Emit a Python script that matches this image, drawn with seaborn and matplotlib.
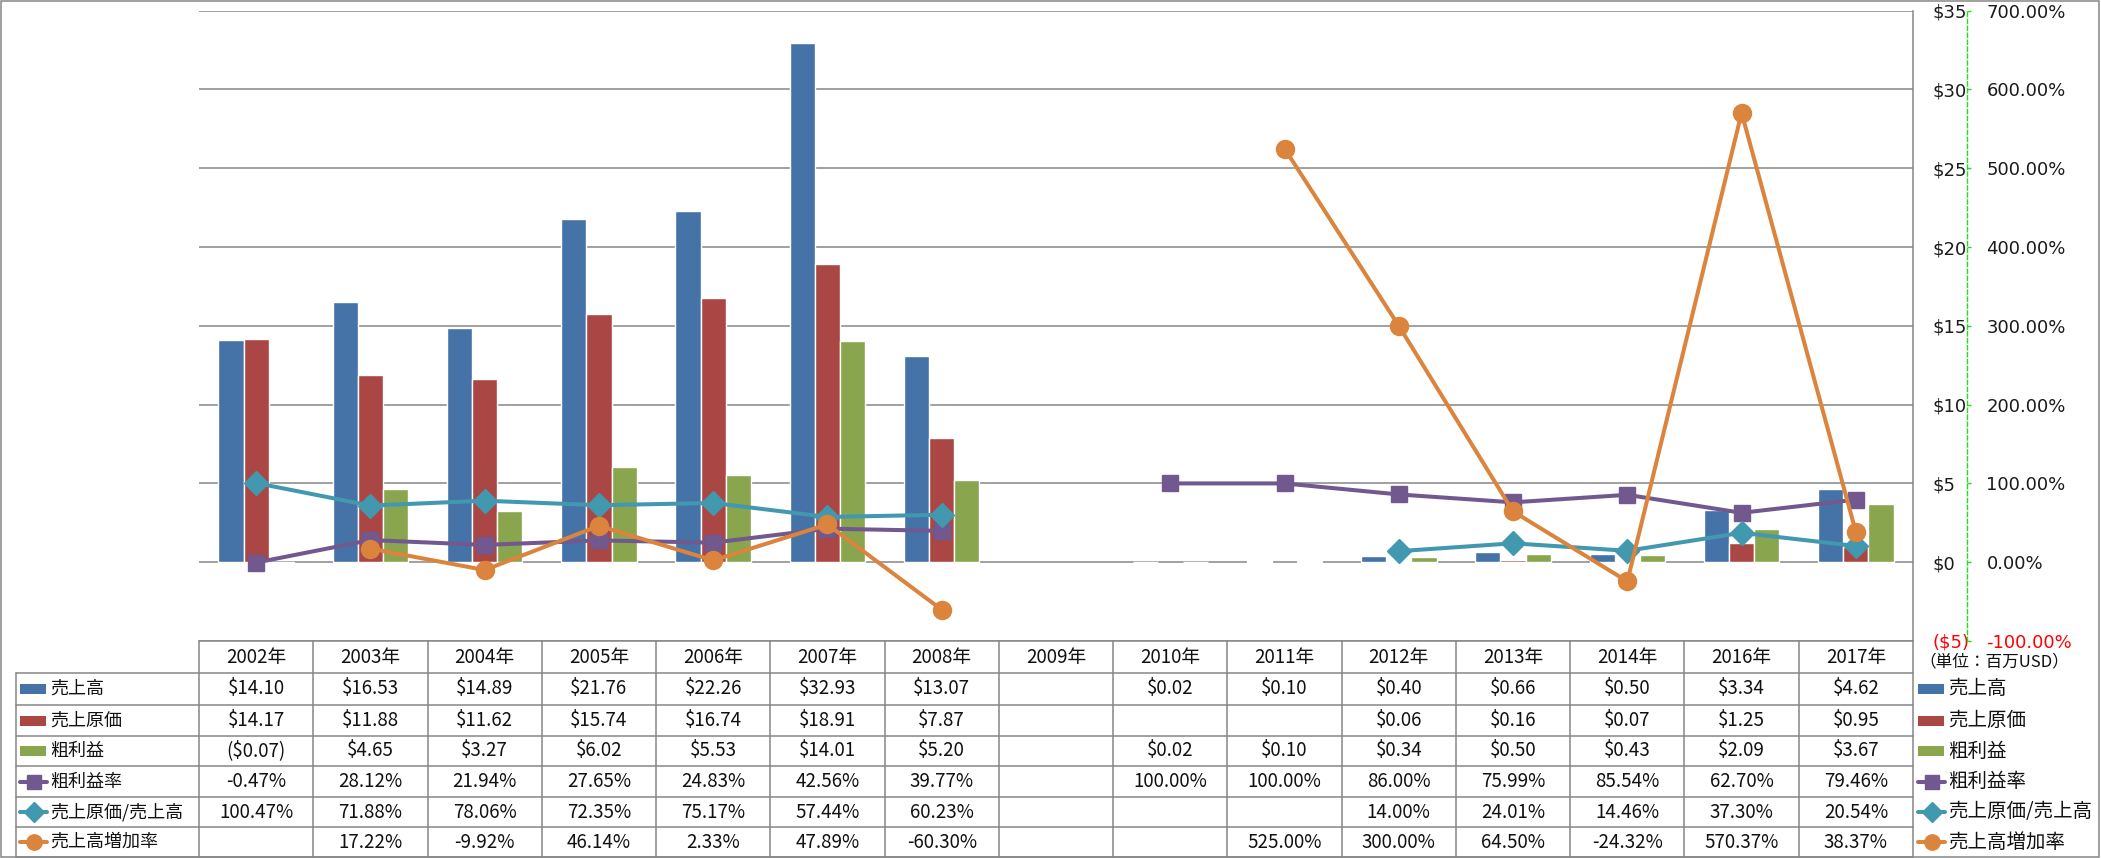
import numpy as np
import pandas as pd
import matplotlib
matplotlib.use("Agg")
import matplotlib.pyplot as plt
import seaborn as sns
from matplotlib.lines import Line2D
from matplotlib.patches import Rectangle

# ---------------- data ----------------
years = ["2002年", "2003年", "2004年", "2005年", "2006年", "2007年", "2008年", "2009年",
         "2010年", "2011年", "2012年", "2013年", "2014年", "2016年", "2017年"]
nan = np.nan
sales = [14.10, 16.53, 14.89, 21.76, 22.26, 32.93, 13.07, nan, 0.02, 0.10, 0.40, 0.66, 0.50, 3.34, 4.62]
cost = [14.17, 11.88, 11.62, 15.74, 16.74, 18.91, 7.87, nan, nan, nan, 0.06, 0.16, 0.07, 1.25, 0.95]
gross = [-0.07, 4.65, 3.27, 6.02, 5.53, 14.01, 5.20, nan, 0.02, 0.10, 0.34, 0.50, 0.43, 2.09, 3.67]
gross_margin = [-0.47, 28.12, 21.94, 27.65, 24.83, 42.56, 39.77, nan, 100.00, 100.00, 86.00, 75.99, 85.54, 62.70, 79.46]
cost_ratio = [100.47, 71.88, 78.06, 72.35, 75.17, 57.44, 60.23, nan, nan, nan, 14.00, 24.01, 14.46, 37.30, 20.54]
sales_growth = [nan, 17.22, -9.92, 46.14, 2.33, 47.89, -60.30, nan, nan, 525.00, 300.00, 64.50, -24.32, 570.37, 38.37]

bar_names = ["売上高", "売上原価", "粗利益"]
line_names = ["粗利益率", "売上原価/売上高", "売上高増加率"]
money_ticks = [-5, 0, 5, 10, 15, 20, 25, 30, 35]
pct_ticks = [-100, 0, 100, 200, 300, 400, 500, 600, 700]
unit_label = "（単位：百万USD）"

# ---------------- styles ----------------
bar_colors = ["#4572A7", "#AA4643", "#89A54E"]
line_colors = ["#71588F", "#4198AF", "#DB843D"]
line_markers = ["s", "D", "o"]
line_ms = [12, 12, 13]
grid_col = "#868686"

sns.set_theme(style="white")
plt.rcParams["font.family"] = ["DejaVu Sans", "Noto Sans CJK JP"]
NUM_FONT = ["Liberation Sans Narrow", "Noto Sans CJK JP"]
JP_FONT = ["Noto Sans CJK JP", "DejaVu Sans"]

W, H = 2101, 858
fig = plt.figure(figsize=(W / 100, H / 100), dpi=100)
fig.patch.set_facecolor("white")

def fx(x):
    return x / W

def fy(y):
    return 1 - y / H

L, R, T, B = 199, 1913, 10.7, 641
ax = fig.add_axes([fx(L), fy(B), (R - L) / W, (B - T) / H])

# bars
rows = []
for name, vals in zip(bar_names, [sales, cost, gross]):
    for yr, v in zip(years, vals):
        rows.append({"year": yr, "series": name, "value": v})
df = pd.DataFrame(rows)
sns.barplot(data=df, x="year", y="value", hue="series", order=years, hue_order=bar_names,
            palette=bar_colors, width=0.66, gap=0, errorbar=None, legend=False,
            saturation=1, ax=ax, zorder=2)

ax.set_xlim(-0.5, len(years) - 0.5)
ax.set_ylim(-5, 35)
ax.set_xticks([])
ax.set_xlabel("")
ax.set_ylabel("")
ax.yaxis.grid(True, color=grid_col, lw=1.1)
ax.set_axisbelow(True)
for s in ["left", "top", "bottom"]:
    ax.spines[s].set_visible(False)
ax.spines["right"].set_color(grid_col)
ax.spines["right"].set_linewidth(1.1)

# lines on secondary axis
ax2 = ax.twinx()
xpos = np.arange(len(years))
for vals, c, m, ms in zip([gross_margin, cost_ratio, sales_growth], line_colors, line_markers, line_ms):
    ax2.plot(xpos, vals, color=c, lw=2.9, marker=m, ms=ms, mec=c, solid_joinstyle="round",
             solid_capstyle="round", zorder=3)
ax2.set_ylim(-100, 700)
ax2.set_yticks(pct_ticks, labels=[f"{v:.2f}%" for v in pct_ticks])
ax2.grid(False)
for s in ["left", "top", "bottom"]:
    ax2.spines[s].set_visible(False)
ax2.spines["right"].set_position(("outward", 54 * 0.72))
ax2.spines["right"].set_color("#22DD22")
ax2.spines["right"].set_linestyle((0, (3, 2)))
ax2.spines["right"].set_linewidth(1)
ax2.tick_params(axis="y", direction="out", length=3, width=1, color="#22DD22", pad=11,
                labelsize=13, labelcolor="#1a1a1a")
ax2.set_xlim(-0.5, len(years) - 0.5)
for lab, v in zip(ax2.get_yticklabels(), pct_ticks):
    if v < 0:
        lab.set_color("red")

# primary money axis: labels on the right side of the plot (after twinx)
def money_fmt(v):
    return f"(${abs(v):g})" if v < 0 else f"${v:g}"
ax.set_yticks(money_ticks, labels=[money_fmt(v) for v in money_ticks])
ax.yaxis.tick_right()
ax.tick_params(axis="y", which="both", left=False, labelleft=False, right=True, labelright=True,
               length=0, pad=14.4, labelsize=13, labelcolor="#1a1a1a")
for lab, v in zip(ax.get_yticklabels(), money_ticks):
    if v < 0:
        lab.set_color("red")

# ---------------- data table ----------------
def hline(x0, x1, y, **kw):
    fig.add_artist(Line2D([fx(x0), fx(x1)], [fy(y), fy(y)], transform=fig.transFigure,
                          color=grid_col, lw=1.1, **kw))

def vline(x, y0, y1, **kw):
    fig.add_artist(Line2D([fx(x), fx(x)], [fy(y0), fy(y1)], transform=fig.transFigure,
                          color=grid_col, lw=1.1, **kw))

colw = (R - L) / len(years)
row_edges = [641, 673, 705, 736, 766, 797, 827, 857]
LEG_L = 16

hline(L, R, row_edges[0])
for y in row_edges[1:]:
    hline(LEG_L, R, y)
vline(LEG_L, row_edges[1], row_edges[-1])
for i in range(len(years) + 1):
    vline(L + i * colw, row_edges[0], row_edges[-1])

# outer border
fig.add_artist(Rectangle((fx(1), fy(857)), fx(2098), (856) / H, transform=fig.transFigure,
                         fill=False, ec=grid_col, lw=1.1))

# header
hc = (row_edges[0] + row_edges[1]) / 2
for i, yr in enumerate(years):
    fig.text(fx(L + (i + 0.5) * colw), fy(hc), yr, ha="center", va="center",
             fontsize=13.5, family=NUM_FONT, color="#111111")

def fmt_money(v):
    if np.isnan(v):
        return ""
    return f"(${abs(v):.2f})" if v < 0 else f"${v:.2f}"

def fmt_pct(v):
    if np.isnan(v):
        return ""
    return f"{v:.2f}%"

series_vals = [sales, cost, gross, gross_margin, cost_ratio, sales_growth]
series_fmt = [fmt_money] * 3 + [fmt_pct] * 3
for r, (vals, f) in enumerate(zip(series_vals, series_fmt)):
    yc = (row_edges[r + 1] + row_edges[r + 2]) / 2
    for i, v in enumerate(vals):
        t = f(v)
        if t:
            fig.text(fx(L + (i + 0.5) * colw), fy(yc), t, ha="center", va="center",
                     fontsize=13.5, family=NUM_FONT, color="#111111")

# legend keys (in table and at right)
all_names = bar_names + line_names
def draw_key(x0, yc, r):
    if r < 3:
        fig.add_artist(Rectangle((fx(x0), fy(yc + 5)), 26 / W, 10 / H, transform=fig.transFigure,
                                 color=bar_colors[r], lw=0))
    else:
        k = r - 3
        fig.add_artist(Line2D([fx(x0), fx(x0 + 27)], [fy(yc), fy(yc)], transform=fig.transFigure,
                              color=line_colors[k], lw=2.9, solid_capstyle="round"))
        fig.add_artist(Line2D([fx(x0 + 13.5)], [fy(yc)], transform=fig.transFigure,
                              color=line_colors[k], marker=line_markers[k], ms=line_ms[k] * 0.85,
                              lw=0))

for r, name in enumerate(all_names):
    yc = (row_edges[r + 1] + row_edges[r + 2]) / 2
    draw_key(20, yc, r)
    fig.text(fx(50), fy(yc), name, ha="left", va="center", fontsize=13, family=JP_FONT,
             color="#111111")
    draw_key(1918, yc, r)
    fig.text(fx(1948), fy(yc), name, ha="left", va="center", fontsize=14, family=JP_FONT,
             color="#111111")

fig.text(fx(1919), fy(662), unit_label, ha="left", va="center", fontsize=12, family=JP_FONT,
         color="#111111")

fig.savefig("out.png", dpi=100, facecolor="white")
